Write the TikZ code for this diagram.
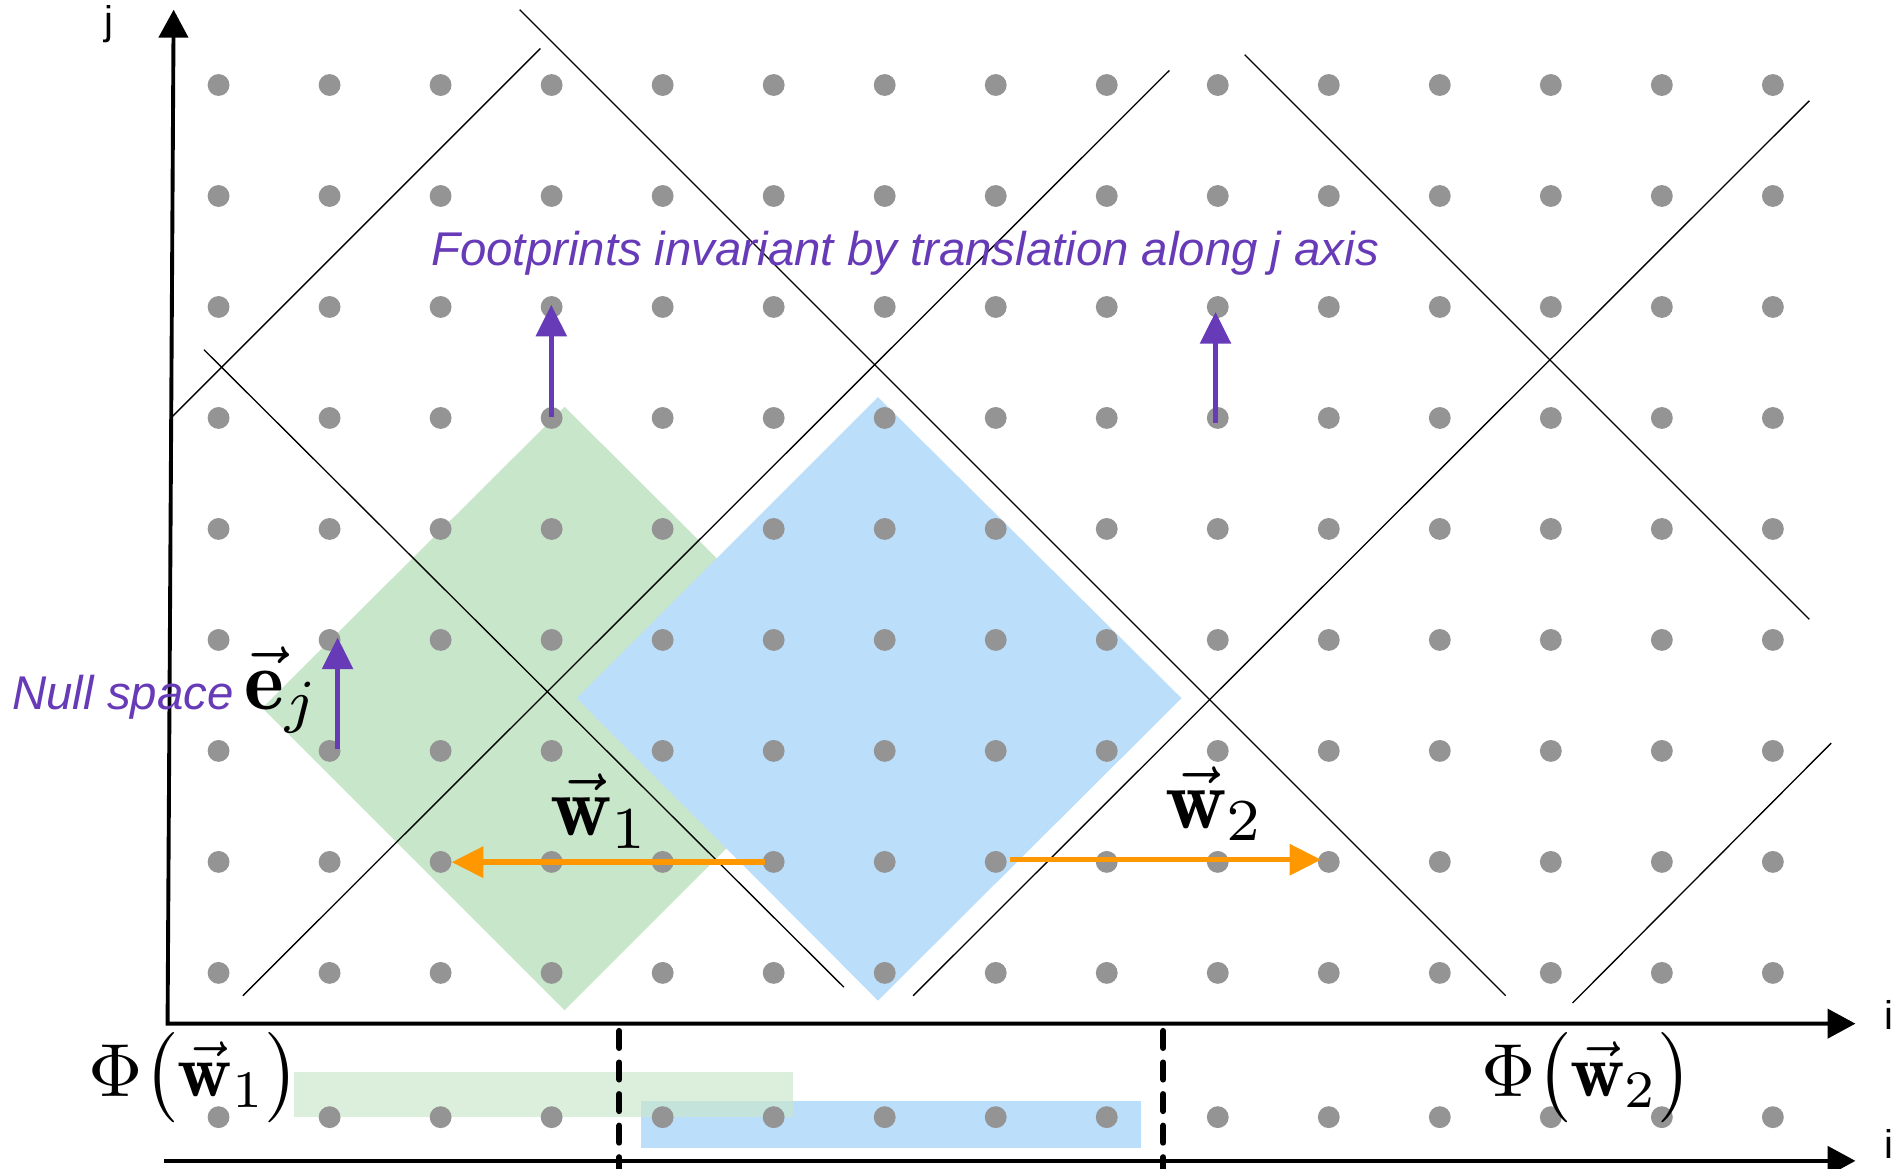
\documentclass[tikz,border=0pt]{standalone}
\usepackage{fontspec}
\newfontfamily\labelfont{Liberation Sans}
\usetikzlibrary{arrows.meta}
\definecolor{fgreen}{HTML}{C8E6C9}
\definecolor{fblue}{HTML}{BBDEFB}
\definecolor{dotgray}{HTML}{949494}
\definecolor{vpurple}{HTML}{673AB7}
\definecolor{vorange}{HTML}{FF9800}
\tikzset{
  thinline/.style={black, line width=1.1pt},
  axisline/.style={black, line width=3.2pt},
  axistip/.style={-{Triangle[length=23pt,width=24pt]}},
  purplearrow/.style={vpurple, line width=3.8pt, -{Triangle[length=26pt,width=25pt]}},
  orangearrow/.style={vorange, line width=4.5pt, -{Triangle[length=26pt,width=25pt]}},
  dashline/.style={black, line width=5pt, dash pattern=on 14pt off 12pt, line cap=round},
  dotstyle/.style={fill=dotgray},
  purpletext/.style={text=vpurple, inner sep=0pt, font=\labelfont\itshape\fontsize{39}{45}\selectfont},
  axislabel/.style={inner sep=0pt, font=\labelfont\fontsize{33}{38}\selectfont},
  bigmath/.style={inner sep=0pt, font=\fontsize{10}{12}\selectfont, scale=7},
  phimath/.style={inner sep=0pt, font=\fontsize{10}{12}\selectfont, scale=6.2}
}
\begin{document}
\begin{tikzpicture}[x=1pt,y=-1pt]
\useasboundingbox (0,0) rectangle (1568,962);
\clip (0,0) rectangle (1568,962);
% footprints
\fill[fgreen] (465,335) -- (714,583) -- (465,832) -- (216,583) -- cycle;
\fill[fblue] (723,327) -- (973,575) -- (723,824) -- (475,575) -- cycle;
% projections
\fill[fblue] (528,907) rectangle (940,945);
\fill[fgreen, fill opacity=0.64] (242,883) rectangle (653,920);
% lattice
\foreach \c in {0,...,14}{
  \foreach \r in {0,...,8}{
    \fill[dotstyle] ({180+91.4286*\c},{70+91.4*\r}) circle[radius=9];
  }
  \fill[dotstyle] ({180+91.4286*\c},920) circle[radius=9];
}
% tiling lines
\draw[thinline] (428,8) -- (1240,820);
\draw[thinline] (963,58) -- (200,820);
\draw[thinline] (445,40) -- (142,343);
\draw[thinline] (168,288) -- (695,813);
\draw[thinline] (1025,45) -- (1490,510);
\draw[thinline] (1490,83) -- (752,820);
\draw[thinline] (1508,612) -- (1295,826);
% axes
\coordinate (O) at (138,843);
\coordinate (Jtop) at (143,8);
\coordinate (Iend) at (1528,843);
\coordinate (O2) at (135,956);
\coordinate (I2end) at (1528,956);
\draw[axisline, {Triangle[length=23pt,width=24pt]}-{Triangle[length=23pt,width=24pt]}] (Jtop) -- (O) -- (Iend);
\draw[axisline, axistip] (O2) -- (I2end);
\node[axislabel, anchor=base] (jlab) at (90,28) {j};
\node[axislabel, anchor=base west] (ilab) at (1552,848) {i};
\node[axislabel, anchor=base west] (ilab2) at (1552,954) {i};
% dashed separators
\coordinate (d1a) at (510,849); \coordinate (d1b) at (510,975);
\coordinate (d2a) at (958,849); \coordinate (d2b) at (958,975);
\draw[dashline] (d1a) -- (d1b);
\draw[dashline] (d2a) -- (d2b);
% null space arrows
\coordinate (p1a) at (278,617); \coordinate (p1b) at (278,525);
\coordinate (p2a) at (454,343); \coordinate (p2b) at (454,251);
\coordinate (p3a) at (1001,348); \coordinate (p3b) at (1001,257);
\draw[purplearrow] (p1a) -- (p1b);
\draw[purplearrow] (p2a) -- (p2b);
\draw[purplearrow] (p3a) -- (p3b);
% translation arrows
\coordinate (w1a) at (630,710); \coordinate (w1b) at (372,710);
\coordinate (w2a) at (832,708); \coordinate (w2b) at (1088,708);
\draw[orangearrow] (w1a) -- (w1b);
\draw[orangearrow] (w2a) -- (w2b);
% labels
\node[purpletext, anchor=base west] (foot) at (355,219) {Footprints invariant by translation along j axis};
\node[purpletext, anchor=base west] (null) at (10,584) {Null space};
\node[bigmath, anchor=base west] (ej) at (200,584) {$\vec{\mathbf{e}}_j$};
\node[bigmath, anchor=base west] (w1lab) at (452,688) {$\vec{\mathbf{w}}_1$};
\node[bigmath, anchor=base west] (w2lab) at (958,682) {$\vec{\mathbf{w}}_2$};
\node[phimath, anchor=base west] (phi1) at (72,903) {$\Phi\bigl(\vec{\mathbf{w}}_1\bigr)$};
\node[phimath, anchor=base west] (phi2) at (1219,903) {$\Phi\bigl(\vec{\mathbf{w}}_2\bigr)$};
\end{tikzpicture}
\end{document}
